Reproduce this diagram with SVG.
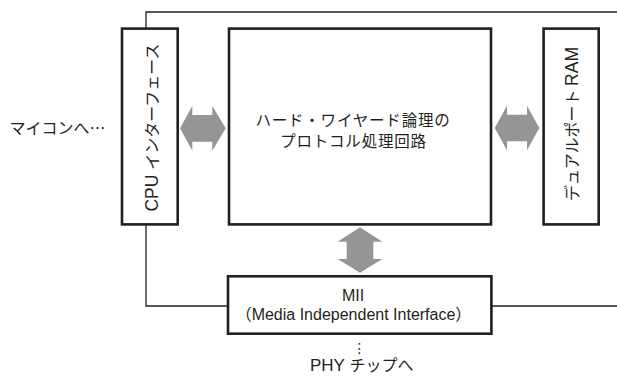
<svg xmlns="http://www.w3.org/2000/svg" width="617" height="382" viewBox="0 0 617 382">
<style>
.box{fill:#fff;stroke:#231f20;stroke-width:2.6}
.ln{fill:none;stroke:#231f20;stroke-width:1.3}
.arr{fill:#959595}
text{fill:#231f20}
.jp{font-family:"Noto Sans CJK JP","Noto Sans CJK SC",sans-serif;font-size:16px}
.lat{font-family:"Liberation Sans",Arial,sans-serif}
</style>
<rect width="617" height="382" fill="#fff"/>
<g id="connectors">
<polyline class="ln" points="146,29 146,12 617,12"/>
<polyline class="ln" points="146,225 146,306 228,306"/>
<line class="ln" x1="492" y1="306" x2="617" y2="306"/>
<polygon class="arr" points="180,128.3 192.3,106 192.3,115 212.3,115 212.3,106 225.7,128.3 212.3,150.7 212.3,141.7 192.3,141.7 192.3,150.7"/>
<polygon class="arr" points="494.7,128 507,105.7 507,114.7 527,114.7 527,105.7 539.3,128 527,150.3 527,141.3 507,141.3 507,150.3"/>
<polygon class="arr" points="360,227.3 382.3,241.7 373.3,241.7 373.3,259 382.3,259 360,272.7 337.7,259 346.7,259 346.7,241.7 337.7,241.7"/>
</g>
<g id="mcu-label">
<text class="jp" x="9.5" y="134">マイコンへ…</text>
</g>
<g id="cpu-interface">
<rect class="box" x="122" y="28.6" width="55.7" height="195.8"/>
<text transform="translate(158,127.5) rotate(-90)" text-anchor="middle"><tspan class="lat" font-size="17.5">CPU </tspan><tspan class="jp">インターフェース</tspan></text>
</g>
<g id="protocol-circuit">
<rect class="box" x="229" y="28.6" width="262" height="195.8"/>
<text class="jp" x="353" y="125.5" text-anchor="middle" style="font-size:15.5px;letter-spacing:0.8px">ハード・ワイヤード論理の</text>
<text class="jp" x="353.5" y="146.5" text-anchor="middle" style="font-size:15.5px;letter-spacing:0.8px">プロトコル処理回路</text>
</g>
<g id="dual-port-ram">
<rect class="box" x="543.6" y="28.6" width="55.1" height="195.8"/>
<text transform="translate(578,124) rotate(-90)" text-anchor="middle"><tspan class="jp">デュアルポート </tspan><tspan class="lat" font-size="17.5">RAM</tspan></text>
</g>
<g id="mii">
<rect class="box" x="228" y="276.3" width="263.4" height="57.4"/>
<text class="lat" x="353" y="300.5" text-anchor="middle" font-size="16">MII</text>
<text x="353.5" y="320" text-anchor="middle"><tspan class="jp">（</tspan><tspan class="lat" font-size="16">Media Independent Interface</tspan><tspan class="jp">）</tspan></text>
</g>
<g id="phy-label">
<text x="359.5" y="353" text-anchor="middle" font-family="DejaVu Sans,sans-serif" font-size="14">⋮</text>
<text x="361.7" y="371" text-anchor="middle"><tspan class="lat" font-size="17">PHY </tspan><tspan class="jp">チップへ</tspan></text>
</g>
</svg>
